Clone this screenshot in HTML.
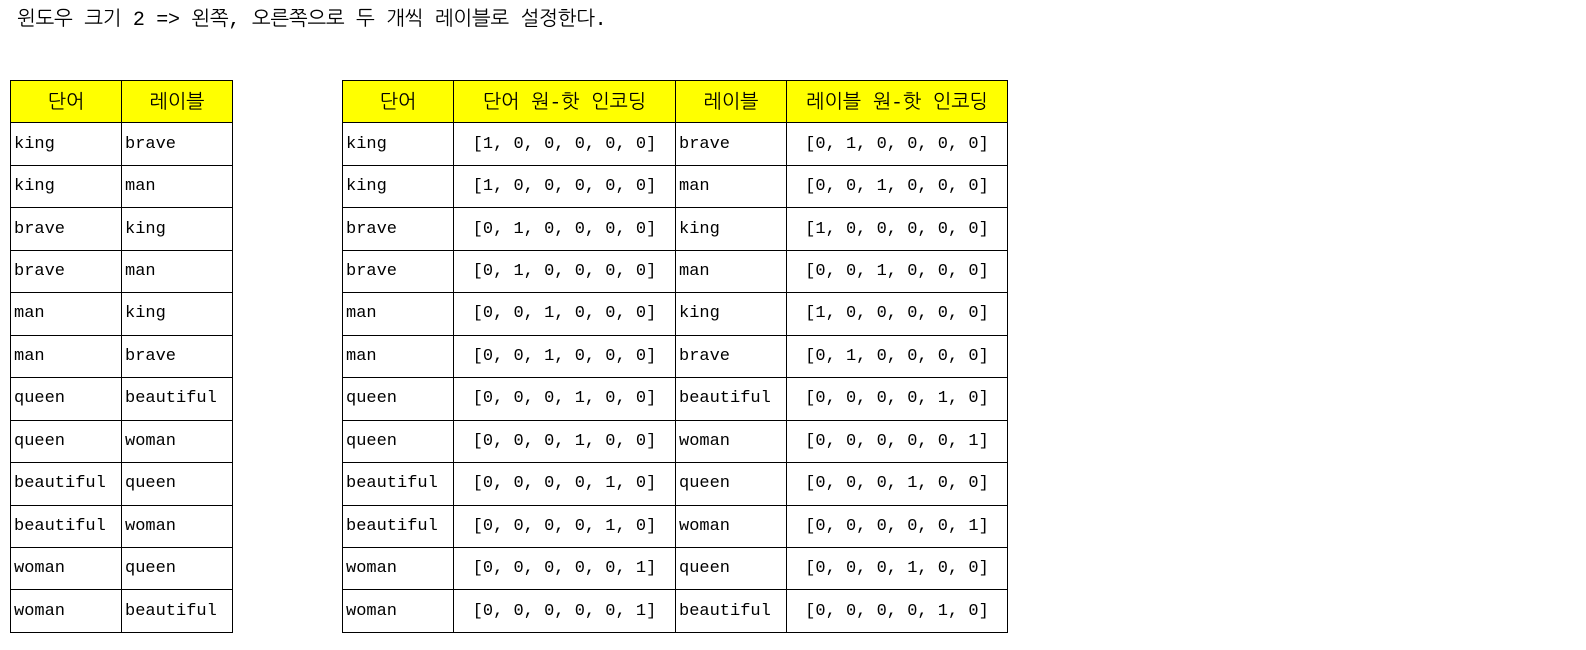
<!DOCTYPE html>
<html><head><meta charset="utf-8"><style>
body{margin:0;width:1586px;height:650px;background:#fff;position:relative;overflow:hidden;font-family:"Liberation Mono","NanumGothic","Noto Sans CJK KR",monospace;font-size:17px;color:#000}
#title{position:absolute;left:17px;top:6px;font-size:20px;letter-spacing:-0.3px}
table{position:absolute;top:80px;border-collapse:collapse;table-layout:fixed}
tr{height:42.46px}
td,th{border:1px solid #000;padding:0 0 0 3px;white-space:nowrap;font-weight:normal;text-align:left}
th{background:#ffff00;text-align:center;padding:0;font-size:19.5px}
td.c{text-align:center;padding:0}
#t1{left:10px;width:222px}
#t2{left:342px;width:665px}
</style></head><body>
<div id="title">윈도우 크기 2 =&gt; 왼쪽, 오른쪽으로 두 개씩 레이블로 설정한다.</div>
<table id="t1">
<colgroup><col style="width:111px"><col style="width:111px"></colgroup>
<thead><tr><th>단어</th><th>레이블</th></tr></thead>
<tbody id="b1"></tbody></table>
<table id="t2">
<colgroup><col style="width:111px"><col style="width:222px"><col style="width:111px"><col style="width:221px"></colgroup>
<thead><tr><th>단어</th><th>단어 원-핫 인코딩</th><th>레이블</th><th>레이블 원-핫 인코딩</th></tr></thead>
<tbody id="b2"></tbody></table>
<script>
const words=["king","king","brave","brave","man","man","queen","queen","beautiful","beautiful","woman","woman"];
const labels=["brave","man","king","man","king","brave","beautiful","woman","queen","woman","queen","beautiful"];
const vocab=["king","brave","man","queen","beautiful","woman"];
function oh(w){return "["+vocab.map(v=>v===w?1:0).join(", ")+"]";}
const b1=document.getElementById('b1'),b2=document.getElementById('b2');
function cell(tr,txt,name,c){const td=document.createElement('td');td.textContent=txt;if(c)td.className='c';


tr.appendChild(td);}
words.forEach((w,i)=>{
 const r1=document.createElement('tr');
 
 
 cell(r1,w,'word-cell');cell(r1,labels[i],'label-cell');b1.appendChild(r1);
 const r2=document.createElement('tr');
 
 
 cell(r2,w,'word-cell');cell(r2,oh(w),'word-onehot-cell',1);cell(r2,labels[i],'label-cell');cell(r2,oh(labels[i]),'label-onehot-cell',1);b2.appendChild(r2);
});
</script>
</body></html>
